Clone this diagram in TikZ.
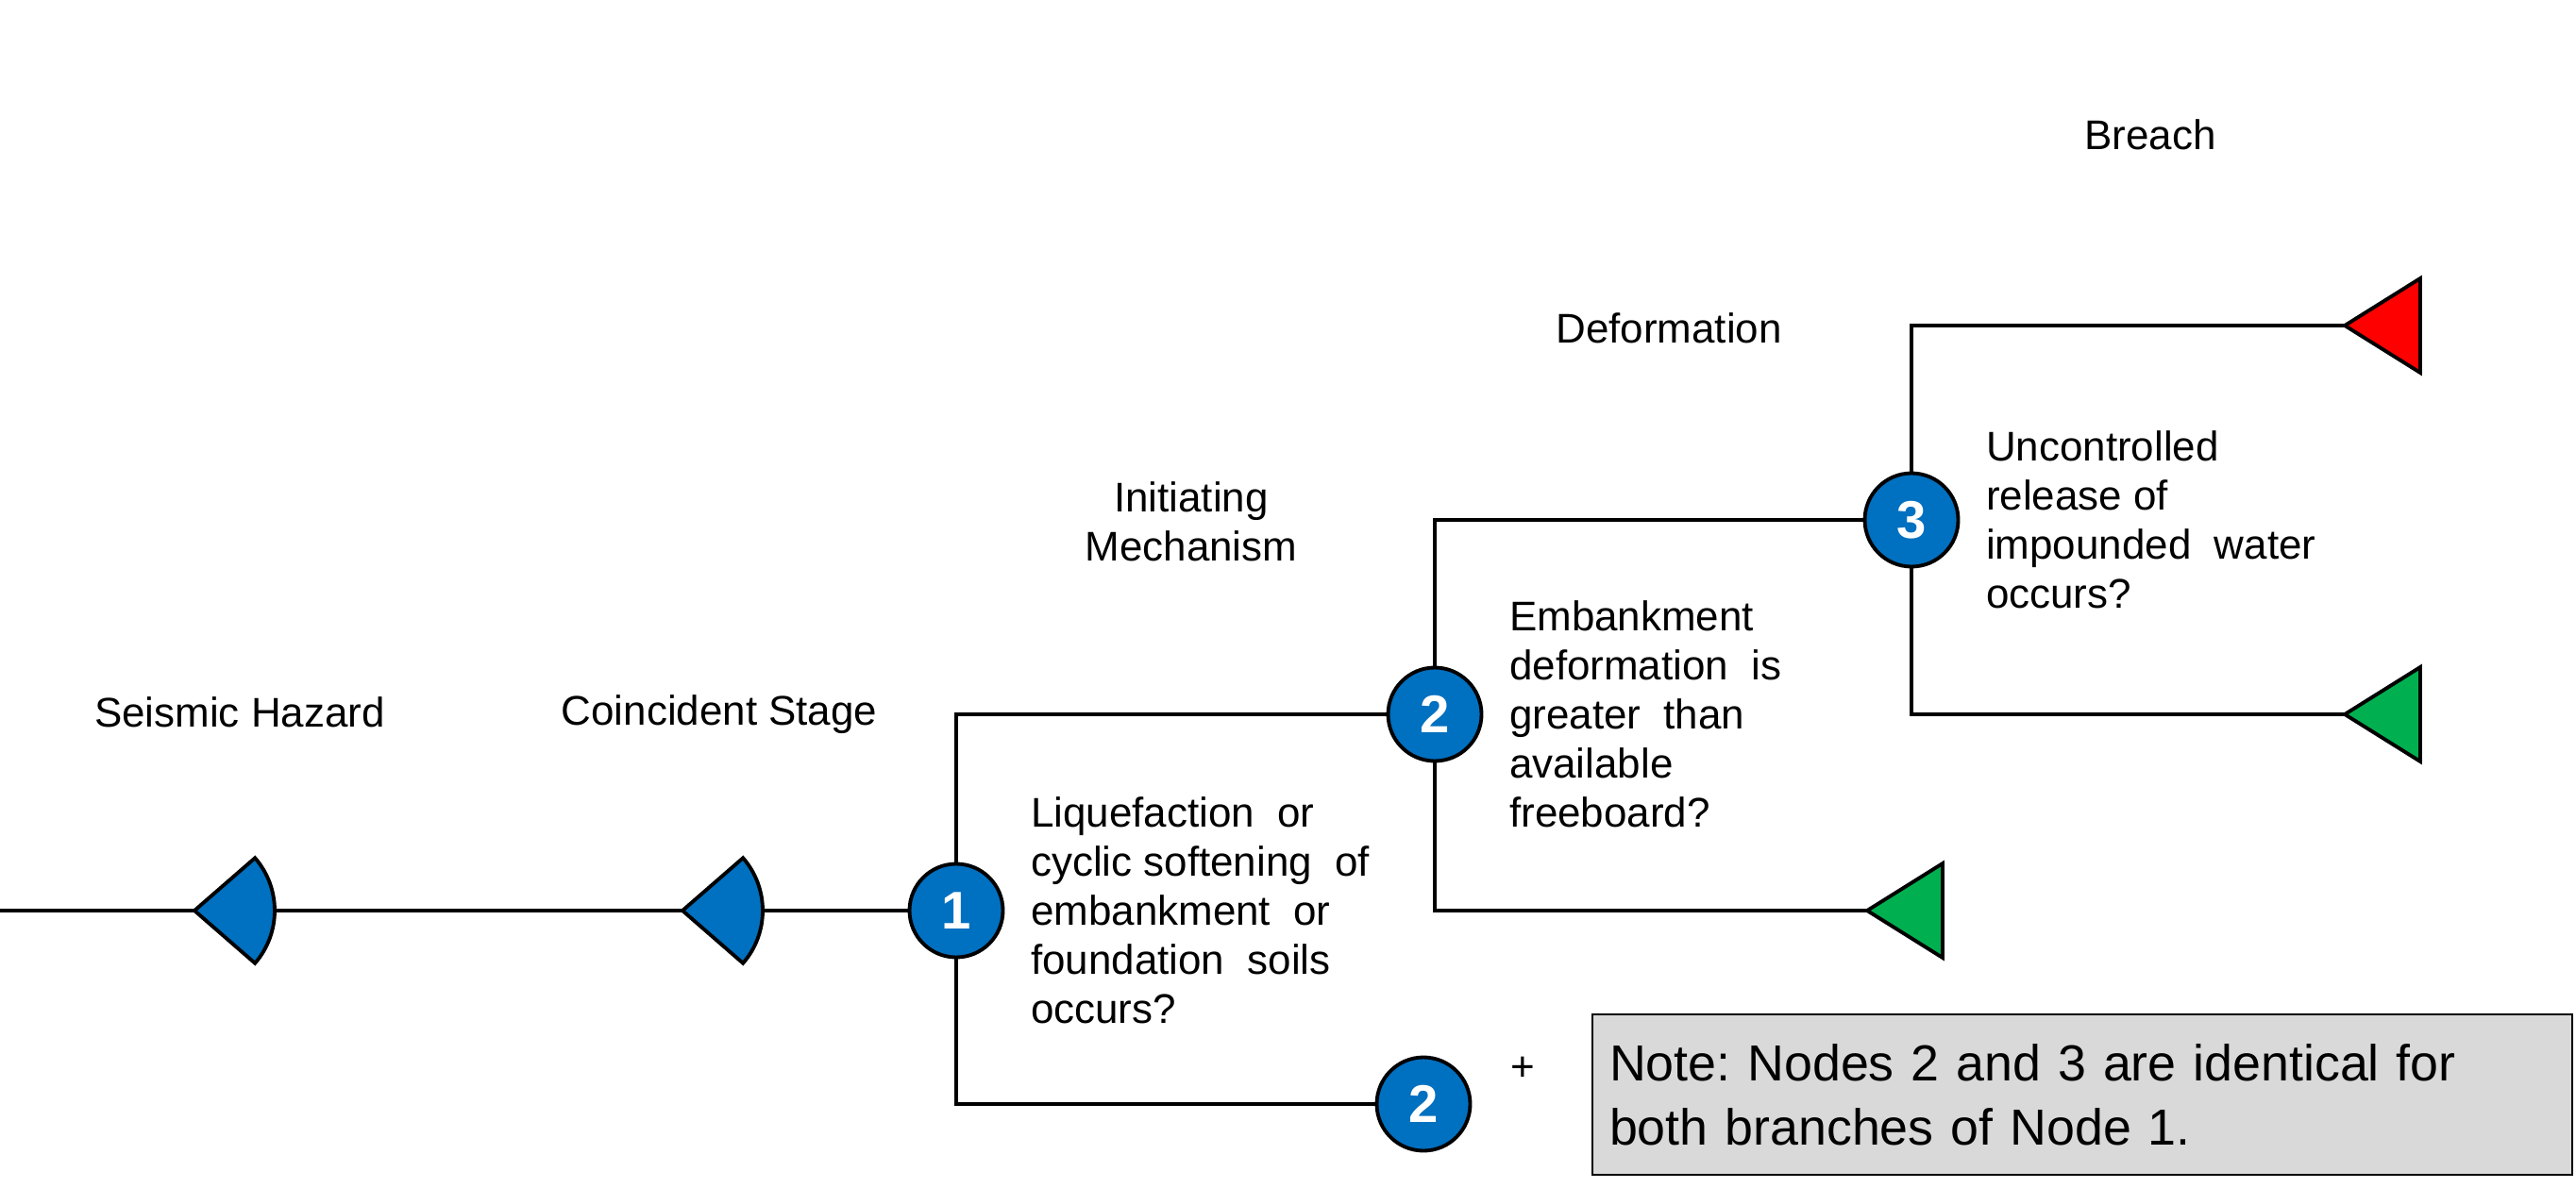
\documentclass[tikz,border=0pt]{standalone}
\usepackage{fontspec}
\setmainfont{Liberation Sans}
\usetikzlibrary{positioning}

\definecolor{nodeblue}{HTML}{0070C0}
\definecolor{endgreen}{HTML}{00B050}
\definecolor{endred}{HTML}{FF0000}
\definecolor{notegray}{HTML}{D9D9D9}

\frenchspacing

\begin{document}
\begin{tikzpicture}[
  branch/.style={
    draw,
    line width=0.9pt
  },
  chance node/.style={
    circle,
    draw,
    line width=1.1pt,
    fill=nodeblue,
    minimum size=0.99cm,
    inner sep=0pt,
    text=white,
    font=\fontsize{16}{16}\selectfont\bfseries
  },
  wedge node/.style={
    draw,
    line width=1.1pt,
    fill=nodeblue
  },
  end node/.style={
    draw,
    line width=1.1pt
  },
  stage label/.style={
    align=center,
    inner sep=0pt,
    font=\fontsize{12.5}{14.8}\selectfont
  },
  question/.style={
    align=left,
    inner sep=0pt,
    font=\fontsize{12.5}{14.8}\selectfont
  },
  note box/.style={
    draw,
    line width=0.8pt,
    fill=notegray,
    align=left,
    text width=10.02cm,
    inner sep=0.18cm,
    minimum height=1.70cm,
    font=\fontsize{15.3}{19.4}\selectfont
  }
]
\useasboundingbox (0,0) rectangle (27.29,12.58);

% stage titles
\node[stage label] (hazard) at (2.54, 5.03) {Seismic Hazard};
\node[stage label] (stage) at (7.62, 5.01) {Coincident Stage};
\node[stage label] (mechanism) at (12.62, 7.05) {Initiating\\Mechanism};
\node[stage label] (deformation) at (17.68, 9.10) {Deformation};
\node[stage label] (breach) at (22.78, 11.15) {Breach};

% chance nodes
\node[chance node] (n1) at (10.13, 2.93) {1};
\node[chance node] (n2) at (15.20, 5.01) {2};
\node[chance node] (n2b) at (15.08, 0.88) {2};
\node[chance node] (n3) at (20.25, 7.07) {3};

% branch ends
\coordinate (start) at (0, 2.93);
\coordinate (w1) at (2.06, 2.93);
\coordinate (w1e) at (2.90, 2.93);
\coordinate (w2) at (7.23, 2.93);
\coordinate (w2e) at (8.07, 2.93);
\coordinate (t1) at (19.78, 2.93);
\coordinate (t2) at (24.84, 5.01);
\coordinate (t3) at (24.84, 9.13);

% questions
\node[question, right=0.27cm of n1] (q1) {Liquefaction~~or\\cyclic softening~~of\\embankment~~or\\foundation~~soils\\occurs?};
\node[question, right=0.27cm of n2] (q2) {Embankment\\deformation~~is\\greater~~than\\available\\freeboard?};
\node[question, right=0.27cm of n3] (q3) {Uncontrolled\\release of\\impounded~~water\\occurs?};

\node[stage label] (plus) at (16.13, 1.25) {+};
\node[note box] (note) at (22.06, 0.98) {Note: Nodes 2 and 3 are identical for\\both branches of Node 1.};

% branches
\draw[branch] (start) -- (w1);
\draw[branch] (w1e) -- (w2);
\draw[branch] (w2e) -- (n1);
\draw[branch] (n1) |- (n2);
\draw[branch] (n1) |- (n2b);
\draw[branch] (n2) |- (n3);
\draw[branch] (n2) |- (t1);
\draw[branch] (n3) |- (t3);
\draw[branch] (n3) |- (t2);

% system response wedges
\draw[wedge node] (w1) -- ++(41:0.85) arc[start angle=41, end angle=-41, radius=0.85] -- cycle;
\draw[wedge node] (w2) -- ++(41:0.85) arc[start angle=41, end angle=-41, radius=0.85] -- cycle;

% end triangles
\draw[end node, fill=endgreen] (t1) -- ++(0.80, 0.50) -- ++(0, -1.00) -- cycle;
\draw[end node, fill=endgreen] (t2) -- ++(0.80, 0.50) -- ++(0, -1.00) -- cycle;
\draw[end node, fill=endred] (t3) -- ++(0.80, 0.50) -- ++(0, -1.00) -- cycle;

\end{tikzpicture}
\end{document}
